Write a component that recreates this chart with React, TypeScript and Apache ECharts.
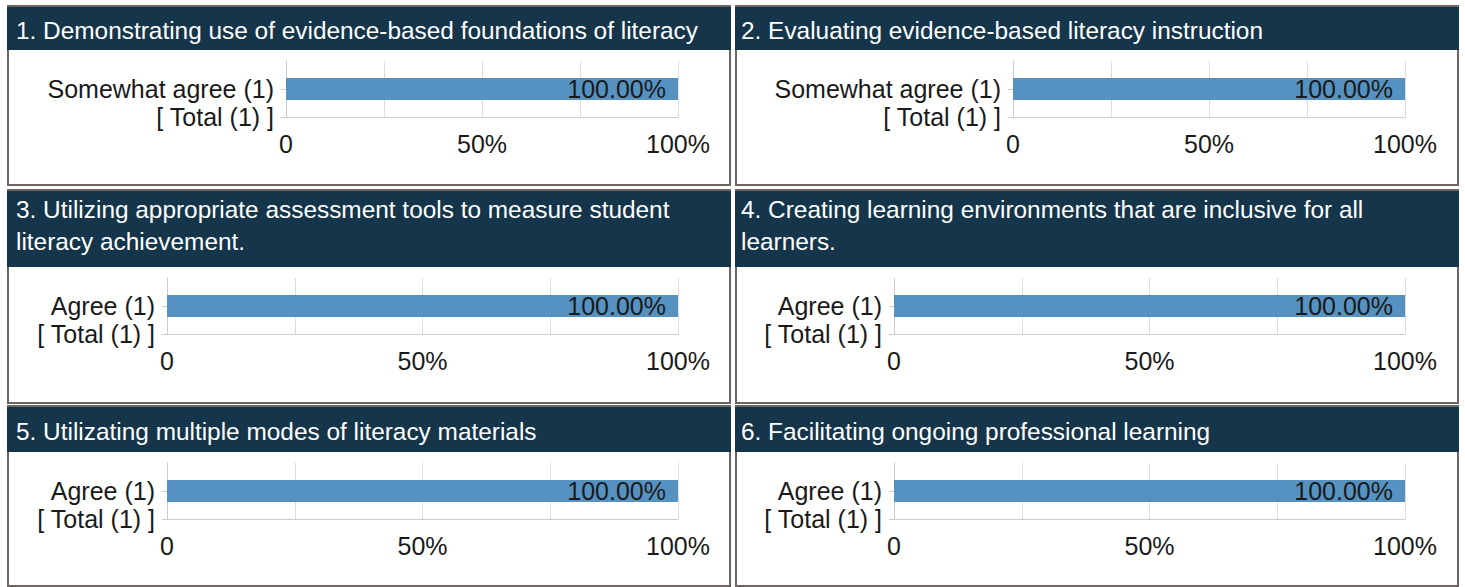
import React, { useEffect, useRef } from "react";
import * as echarts from "echarts";

const questionTitles = [
  "1. Demonstrating use of evidence-based foundations of literacy",
  "2. Evaluating evidence-based literacy instruction",
  "3. Utilizing appropriate assessment tools to measure student literacy achievement.",
  "4. Creating learning environments that are inclusive for all learners.",
  "5. Utilizating multiple modes of literacy materials",
  "6. Facilitating ongoing professional learning",
];
const responseLabels = [
  "Somewhat agree (1)",
  "Somewhat agree (1)",
  "Agree (1)",
  "Agree (1)",
  "Agree (1)",
  "Agree (1)",
];
const totalLabels = [
  "[ Total (1) ]",
  "[ Total (1) ]",
  "[ Total (1) ]",
  "[ Total (1) ]",
  "[ Total (1) ]",
  "[ Total (1) ]",
];
const responsePercents = [100, 100, 100, 100, 100, 100];
const xTickValues = [0, 50, 100];
const xTickLabels = ["0", "50%", "100%"];

// layout
const colX = [7, 735];
const titleLeft = [9, 6];
const rowY = [5, 189, 405];
const rowH = [181, 215, 182];
const headerH = [43, 76, 45];
const titleTop = [7.5, 2, 8];
const axisOffset = [
  [279, 278],
  [160, 159],
  [160, 159],
];
const gridW = [392, 511, 511];

const FONT = "'Liberation Sans', Arial, sans-serif";
const TEXT = "#1a1a1a";
const BORDER = "#6e6563";
const HEADER = "#15354a";
const BAR = "#5592c2";
const LABEL_SIZE = 25;
const TITLE_SIZE = 24.4;

export default function App() {
  const ref = useRef<HTMLDivElement>(null);
  useEffect(() => {
    if (!ref.current) return;
    const chart = echarts.init(ref.current, undefined, { renderer: "svg" });
    const graphics: any[] = [];
    const titles: any[] = [];
    const grids: any[] = [];
    const xAxes: any[] = [];
    const yAxes: any[] = [];
    const series: any[] = [];
    for (let i = 0; i < 6; i++) {
      const r = Math.floor(i / 2);
      const c = i % 2;
      const x = colX[c];
      const y = rowY[r];
      const w = 724;
      const h = rowH[r];
      graphics.push({ type: "rect", shape: { x, y, width: w, height: h }, style: { fill: BORDER }, silent: true });
      graphics.push({ type: "rect", shape: { x: x + 2, y: y + 2, width: w - 4, height: h - 4 }, style: { fill: "#ffffff" }, silent: true });
      graphics.push({ type: "rect", shape: { x, y: y + 2, width: w, height: headerH[r] }, style: { fill: HEADER }, silent: true });
      titles.push({
        text: questionTitles[i],
        left: x + titleLeft[c],
        top: y + 2 + titleTop[r],
        padding: 0,
        textStyle: {
          color: "#ffffff",
          fontSize: TITLE_SIZE,
          fontWeight: "normal",
          fontFamily: FONT,
          lineHeight: 32,
          width: 705,
          overflow: "break",
        },
      });
      const gTop = y + 2 + headerH[r] + 11;
      grids.push({ left: x + axisOffset[r][c], top: gTop, width: gridW[r], height: 56, containLabel: false });
      xAxes.push({
        gridIndex: i,
        type: "value",
        min: 0,
        max: 100,
        interval: 25,
        axisLine: { show: true, lineStyle: { color: "#cccccc", width: 1 } },
        axisTick: { show: false },
        splitLine: { show: true, lineStyle: { color: "#dddddd", width: 1 } },
        axisLabel: {
          color: TEXT,
          fontSize: LABEL_SIZE,
          fontFamily: FONT,
          margin: 14,
          formatter: (v: number) => {
            const k = xTickValues.indexOf(v);
            return k >= 0 ? xTickLabels[k] : "";
          },
        },
      });
      yAxes.push({
        gridIndex: i,
        type: "category",
        inverse: true,
        boundaryGap: false,
        data: ["", responseLabels[i], totalLabels[i]],
        axisLine: { show: true, lineStyle: { color: "#cccccc", width: 1 } },
        axisTick: { show: true, length: 5, interval: (idx: number) => idx !== 0, lineStyle: { color: "#cccccc" } },
        splitLine: { show: false },
        axisLabel: { color: TEXT, fontSize: LABEL_SIZE, fontFamily: FONT, margin: 12, interval: 0 },
      });
      series.push({
        type: "bar",
        xAxisIndex: i,
        yAxisIndex: i,
        barWidth: 22,
        data: ["-", responsePercents[i], "-"],
        itemStyle: { color: BAR },
        label: {
          show: true,
          position: "insideRight",
          distance: 12,
          color: TEXT,
          fontSize: LABEL_SIZE,
          fontFamily: FONT,
          formatter: (p: any) => Number(p.value).toFixed(2) + "%",
        },
      });
    }
    chart.setOption({
      animation: false,
      backgroundColor: "#ffffff",
      textStyle: { fontFamily: FONT },
      graphic: graphics,
      title: titles,
      grid: grids,
      xAxis: xAxes,
      yAxis: yAxes,
      series,
    });
    return () => chart.dispose();
  }, []);
  return (
    <div
      ref={ref}
      style={{ position: "fixed", left: 0, top: 0, width: 1465, height: 587 }}
    />
  );
}
